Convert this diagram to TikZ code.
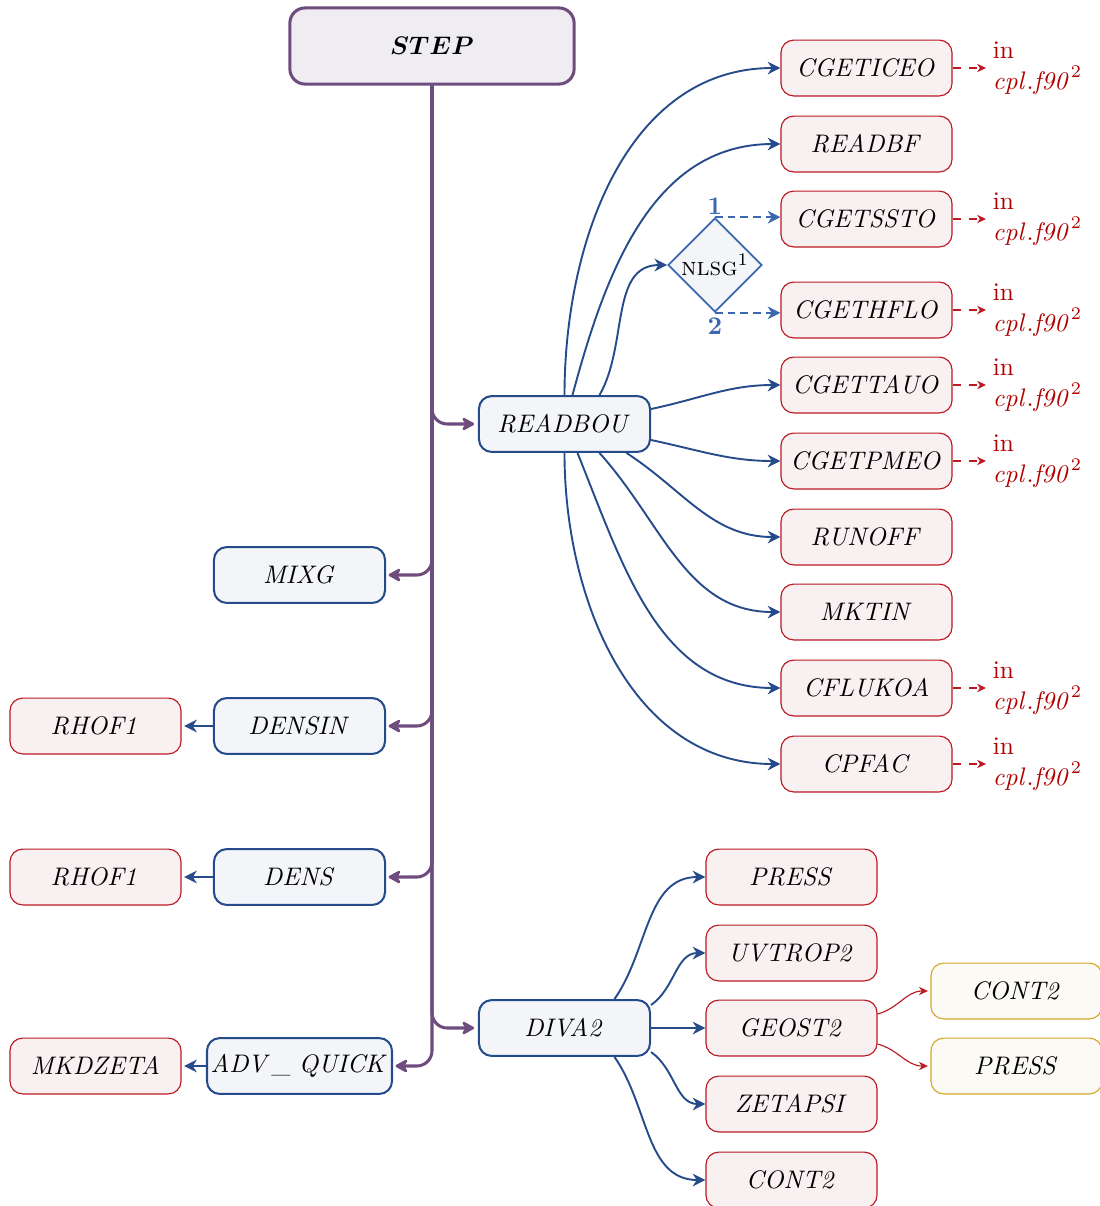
\documentclass[tikz,border=0pt]{standalone}
\usepackage{amsmath,bm}
\usetikzlibrary{arrows.meta,shapes.geometric,calc}

\definecolor{trunkc}{HTML}{6E4C7E}
\definecolor{stepfill}{HTML}{EFEDF1}
\definecolor{bluec}{HTML}{264B8A}
\definecolor{bluefill}{HTML}{F3F5F9}
\definecolor{redc}{HTML}{BC1A22}
\definecolor{redfill}{HTML}{F9F0F1}
\definecolor{redtext}{HTML}{B00000}
\definecolor{yelc}{HTML}{D4A82A}
\definecolor{yelfill}{HTML}{FCFAF4}
\definecolor{nlsgc}{HTML}{3A67AE}

\tikzset{
  box/.style={rectangle, rounded corners=5pt, minimum width=67.4pt,
    minimum height=22pt, inner sep=0pt},
  rootbox/.style={rectangle, rounded corners=6pt, draw=trunkc, fill=stepfill,
    line width=1.2pt, minimum width=112pt, minimum height=30pt},
  subbox/.style={box, draw=bluec, fill=bluefill, line width=0.8pt},
  leafbox/.style={box, draw=redc, fill=redfill, line width=0.45pt},
  yelbox/.style={box, draw=yelc, fill=yelfill, line width=0.45pt},
  decision/.style={diamond, aspect=1, draw=nlsgc, fill=bluefill,
    line width=0.7pt, minimum width=37pt, minimum height=37pt, inner sep=0pt},
  trunk/.style={draw=trunkc, line width=1.2pt, rounded corners=6pt,
    -{Stealth[length=6pt,width=6.5pt,inset=2pt,round]}},
  edge/.style={draw=bluec, line width=0.75pt,
    -{Stealth[length=5pt,width=5pt,inset=1.6pt]}},
  branch/.style={draw=nlsgc, line width=0.75pt, dash pattern=on 3pt off 2pt,
    -{Stealth[length=5pt,width=5pt,inset=1.6pt]}},
  redlink/.style={draw=redc, line width=0.45pt,
    -{Stealth[length=3.5pt,width=3.3pt,inset=1.1pt]}},
  inarrow/.style={draw=redc, line width=0.45pt, dash pattern=on 3.5pt off 2.8pt,
    -{Stealth[length=3.5pt,width=3.3pt,inset=1.1pt]}},
  inlabel/.style={anchor=west, align=left, text=redtext, inner sep=2.5pt,
    font=\normalsize},
  branchnum/.style={text=nlsgc, font=\bfseries, inner sep=0pt},
}

\begin{document}
\begin{tikzpicture}[x=0.394pt,y=0.394pt]
\useasboundingbox (0,0) rectangle (1100,-1206);

% root and first-level calls
\node[rootbox] (STEP) at (432,-46) {$\bm{STEP}$};
\node[subbox] (READBOU) at (564.5,-424) {$\mathit{READBOU}$};
\node[subbox] (MIXG) at (299.5,-575) {$\mathit{MIXG}$};
\node[subbox] (DENSIN) at (299.5,-726) {$\mathit{DENSIN}$};
\node[subbox] (DENS) at (299.5,-877) {$\mathit{DENS}$};
\node[subbox, minimum width=72.9pt] (ADVQ) at (299.5,-1066) {$\mathit{ADV\_\ QUICK}$};
\node[subbox] (DIVA) at (564.5,-1028) {$\mathit{DIVA2}$};

% leaves on the left
\node[leafbox] (RHOFa) at (95.5,-726) {$\mathit{RHOF1}$};
\node[leafbox] (RHOFb) at (95.5,-877) {$\mathit{RHOF1}$};
\node[leafbox] (MKDZ) at (95.5,-1066) {$\mathit{MKDZETA}$};

% calls made by READBOU
\node[leafbox] (ICEO) at (866.5,-68) {$\mathit{CGETICEO}$};
\node[leafbox] (READBF) at (866.5,-144) {$\mathit{READBF}$};
\node[leafbox] (SSTO) at (866.5,-219) {$\mathit{CGETSSTO}$};
\node[leafbox] (HFLO) at (866.5,-310) {$\mathit{CGETHFLO}$};
\node[leafbox] (TAUO) at (866.5,-385) {$\mathit{CGETTAUO}$};
\node[leafbox] (PMEO) at (866.5,-461) {$\mathit{CGETPMEO}$};
\node[leafbox] (RUNOFF) at (866.5,-537) {$\mathit{RUNOFF}$};
\node[leafbox] (MKTIN) at (866.5,-612) {$\mathit{MKTIN}$};
\node[leafbox] (CFLUKOA) at (866.5,-688) {$\mathit{CFLUKOA}$};
\node[leafbox] (CPFAC) at (866.5,-764) {$\mathit{CPFAC}$};
\node[decision] (NLSG) at (715,-265) {\textsc{nlsg}$^1$};
\node[branchnum] (one) at (715,-206) {1};
\node[branchnum] (two) at (715,-326) {2};

% calls made by DIVA2
\node[leafbox] (PRESSa) at (791.5,-877) {$\mathit{PRESS}$};
\node[leafbox] (UVT) at (791.5,-953) {$\mathit{UVTROP2}$};
\node[leafbox] (GEOST) at (791.5,-1028) {$\mathit{GEOST2}$};
\node[leafbox] (ZETA) at (791.5,-1104) {$\mathit{ZETAPSI}$};
\node[leafbox] (CONTa) at (791.5,-1180) {$\mathit{CONT2}$};
\node[yelbox] (CONTb) at (1016.5,-991) {$\mathit{CONT2}$};
\node[yelbox] (PRESSb) at (1016.5,-1066) {$\mathit{PRESS}$};

% "in cpl.f90" notes
\foreach \n/\yy in {ICEO/-68, SSTO/-219, HFLO/-310, TAUO/-385, PMEO/-461, CFLUKOA/-688, CPFAC/-764}{
  \node[inlabel] (in\n) at (986,\yy) {in\\$\mathit{cpl.f90}^2$};
  \draw[inarrow] (\n.east) -- (in\n.west);
}

% trunk from STEP
\draw[trunk, shorten >=1.5pt] (STEP.south) |- (READBOU.west);
\draw[trunk, shorten >=1pt] (STEP.south) |- (MIXG.east);
\draw[trunk, shorten >=1pt] (STEP.south) |- (DENSIN.east);
\draw[trunk, shorten >=1pt] (STEP.south) |- (DENS.east);
\draw[trunk, shorten >=1.5pt] (STEP.south) |- (DIVA.west);
\draw[trunk, shorten >=1pt] (STEP.south) |- (ADVQ.east);

% left-hand calls
\draw[edge, shorten >=1pt] (DENSIN.west) -- (RHOFa.east);
\draw[edge, shorten >=1pt] (DENS.west) -- (RHOFb.east);
\draw[edge, shorten >=1pt] (ADVQ.west) -- (MKDZ.east);

% fan out of READBOU
\draw[edge] (READBOU.north) to[out=90,in=180] (ICEO.west);
\draw[edge] ($(READBOU.north)+(8,0)$) to[out=75,in=180] (READBF.west);
\draw[edge] ($(READBOU.north)+(35,0)$) to[out=60,in=180] (NLSG.west);
\draw[edge] ($(READBOU.east)+(0,15)$) to[out=12,in=180] (TAUO.west);
\draw[edge] ($(READBOU.east)+(0,-16)$) to[out=-12,in=180] (PMEO.west);
\draw[edge] ($(READBOU.south)+(62,0)$) to[out=-33,in=180] (RUNOFF.west);
\draw[edge] ($(READBOU.south)+(35,0)$) to[out=-48,in=180] (MKTIN.west);
\draw[edge] ($(READBOU.south)+(13,0)$) to[out=-68,in=180] (CFLUKOA.west);
\draw[edge] (READBOU.south) to[out=-90,in=180] (CPFAC.west);

% the two branches of NLSG
\draw[branch] (NLSG.north) -- (NLSG.north -| SSTO.west);
\draw[branch] (NLSG.south) -- (NLSG.south -| HFLO.west);

% fan out of DIVA2
\draw[edge] ($(DIVA.north)+(50,0)$) to[out=55,in=180] (PRESSa.west);
\draw[edge] ($(DIVA.east)+(0,23)$) to[out=35,in=180] (UVT.west);
\draw[edge] (DIVA.east) -- (GEOST.west);
\draw[edge] ($(DIVA.east)+(0,-24)$) to[out=-35,in=180] (ZETA.west);
\draw[edge] ($(DIVA.south)+(50,0)$) to[out=-55,in=180] (CONTa.west);

% GEOST2 calls
\draw[redlink] ($(GEOST.east)+(0,14)$) to[out=15,in=180] ([xshift=-1pt]CONTb.west);
\draw[redlink] ($(GEOST.east)+(0,-16)$) to[out=-15,in=180] ([xshift=-1pt]PRESSb.west);
\end{tikzpicture}
\end{document}
